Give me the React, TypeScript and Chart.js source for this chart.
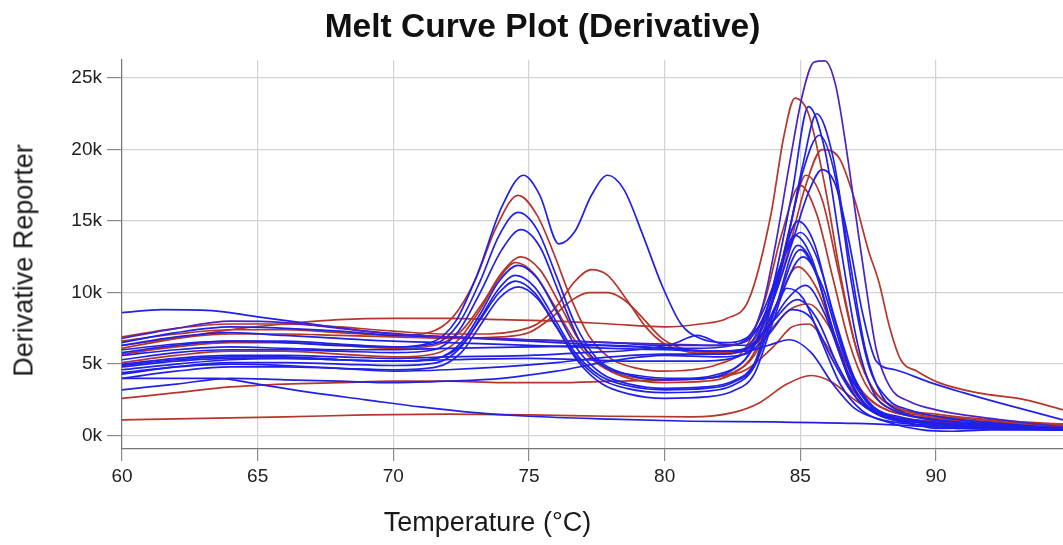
import React, { useEffect, useRef } from 'react';
import { Chart, registerables } from 'chart.js';

Chart.register(...registerables);

type Pt = [number, number];

// Axis ranges & ticks (values in thousands of derivative reporter units)
const X_MIN = 60;
const X_MAX = 94.68;
const Y_MIN = -0.94;
const Y_MAX = 26.26;
const X_TICKS = [60, 65, 70, 75, 80, 85, 90];
const Y_TICKS = [0, 5, 10, 15, 20, 25];

// ---- Red wells ----
const R1: Pt[] = [[60,1.1],[63,1.2],[66,1.3],[69,1.45],[72,1.5],[75,1.45],[78,1.35],[81,1.3],[82.5,1.6],[83.5,2.3],[84.5,3.6],[85.4,4.2],[86.2,3.7],[87,2.5],[88,1.4],[89.5,1.0],[92,0.8],[94.68,0.7]];
const R2: Pt[] = [[60,2.6],[62,3.0],[64,3.4],[66,3.6],[68,3.7],[70,3.8],[72,3.8],[74,3.7],[76,3.7],[78,3.8],[80,3.9],[82,4.1],[83,4.6],[84,6.2],[84.7,7.6],[85.3,7.8],[86,6.2],[86.7,3.8],[87.5,2.0],[88.5,1.3],[90,1.0],[92,0.9],[94.68,0.8]];
const R3: Pt[] = [[60,6.6],[62,7.1],[64,7.4],[66,7.4],[68,7.2],[70,7.0],[71.3,7.2],[72.2,8.3],[73,10.8],[73.8,14.6],[74.6,16.8],[75.3,15.4],[75.9,12.8],[76.5,9.8],[77.2,7.0],[78,5.4],[79,4.7],[80,4.5],[81,4.6],[82,5.0],[83,6.2],[83.7,9.5],[84.3,14.0],[85,17.5],[85.6,15.5],[86.2,11.0],[86.8,6.5],[87.4,3.6],[88.2,2.0],[89.5,1.4],[91,1.1],[94.68,0.7]];
const R4: Pt[] = [[60,5.7],[62,6.2],[64,6.5],[66,6.5],[68,6.3],[70,6.1],[71.5,6.3],[72.5,7.3],[73.3,9.3],[74,11.4],[74.7,12.5],[75.4,11.6],[76.1,9.3],[76.8,6.8],[77.6,5.0],[78.5,4.1],[80,3.7],[81.5,3.8],[82.5,4.3],[83.3,5.8],[84,9.5],[84.6,14.5],[85.2,18.2],[85.8,16.5],[86.4,11.5],[87,6.5],[87.6,3.5],[88.4,2.0],[89.5,1.5],[91,1.2],[94.68,0.7]];
const R5: Pt[] = [[60,5.1],[62,5.6],[64,5.9],[66,5.9],[68,5.7],[70,5.5],[71.5,5.7],[72.4,6.7],[73.2,8.8],[73.9,11.0],[74.5,12.1],[75.2,11.3],[75.9,9.2],[76.6,6.9],[77.4,5.2],[78.3,4.3],[80,3.9],[81.5,4.0],[82.5,4.4],[83.3,5.6],[84.1,9.0],[84.9,11.8],[85.6,10.3],[86.3,6.8],[87,3.8],[87.8,2.2],[89,1.4],[91,1.0],[94.68,0.6]];
const R6: Pt[] = [[60,6.9],[62,7.5],[64,7.8],[66,7.8],[68,7.6],[70,7.3],[72,7.1],[73.5,7.1],[74.5,7.3],[75.3,7.8],[76,9.0],[76.7,10.8],[77.3,11.6],[77.9,11.2],[78.6,9.5],[79.3,7.6],[80,6.4],[81,5.8],[82,5.7],[83,6.1],[83.8,8.5],[84.5,12.5],[85.2,17.5],[85.8,20.0],[86.4,19.5],[87,16.5],[87.5,13.0],[87.9,10.7],[88.3,7.5],[88.7,5.3],[89.3,4.5],[90.1,3.7],[91.5,3.0],[93.3,2.5],[94.68,1.8]];
const R7: Pt[] = [[60,6.3],[62,6.8],[64,7.1],[66,7.1],[68,7.0],[70,6.9],[72,6.8],[74,6.9],[75,7.2],[75.8,8.2],[76.6,9.5],[77.2,10.0],[77.9,10.0],[78.5,9.5],[79.2,8.2],[79.9,6.8],[80.8,6.0],[82,5.8],[83,6.0],[83.8,7.2],[84.6,8.8],[85.3,9.2],[86,7.8],[86.7,5.0],[87.4,2.8],[88.3,1.7],[89.5,1.3],[91,1.0],[94.68,0.6]];
const R8: Pt[] = [[60,6.1],[62,6.8],[64,7.4],[66,7.8],[68,8.1],[70,8.2],[72,8.2],[74,8.1],[76,8.0],[78,7.8],[80,7.6],[81.3,7.8],[82.3,8.2],[83.1,9.5],[83.9,15.3],[84.4,21.0],[84.8,23.6],[85.3,22.5],[85.9,17.5],[86.5,11.0],[87.1,5.8],[87.7,3.2],[88.5,2.0],[90,1.5],[92,1.1],[94.68,0.8]];

// ---- Blue wells ----
const B1: Pt[] = [[60,6.0],[62,6.4],[64,6.6],[66,6.5],[68,6.3],[70,6.2],[71.4,6.5],[72.3,8.0],[73.1,11.3],[74,16.0],[74.8,18.2],[75.4,16.8],[76.1,13.4],[76.7,14.3],[77.3,16.8],[77.9,18.2],[78.5,17.2],[79.2,14.0],[79.9,10.5],[80.6,7.8],[81.3,6.8],[82.2,6.5],[83,6.8],[83.7,9.0],[84.4,12.5],[85,14.2],[85.6,12.5],[86.3,8.0],[87,4.0],[87.7,2.0],[88.7,1.3],[90,0.9],[92,0.7],[94.68,0.5]];
const B2: Pt[] = [[60,5.8],[62,6.3],[64,6.6],[66,6.6],[68,6.4],[70,6.2],[71.5,6.4],[72.4,7.8],[73.2,10.8],[73.9,14.0],[74.6,15.6],[75.3,14.4],[76,11.2],[76.7,7.8],[77.5,5.4],[78.4,4.4],[80,3.9],[81.5,4.0],[82.5,4.6],[83.3,6.3],[84,10.5],[84.7,17.0],[85.3,23.0],[85.9,20.0],[86.5,13.0],[87.1,6.5],[87.7,3.0],[88.5,1.7],[89.5,1.2],[91,0.9],[94.68,0.5]];
const B3: Pt[] = [[60,5.3],[62,5.8],[64,6.0],[66,6.0],[68,5.9],[70,5.8],[71.5,6.0],[72.4,7.3],[73.2,10.0],[74,13.0],[74.7,14.4],[75.4,13.2],[76.1,10.0],[76.9,6.5],[77.8,4.8],[79,4.2],[80.5,4.0],[82,4.3],[83,5.4],[83.8,8.5],[84.5,13.5],[85.1,19.0],[85.6,22.5],[86.2,19.5],[86.8,12.5],[87.4,6.0],[88,2.8],[88.8,1.6],[90,1.1],[92,0.8],[94.68,0.5]];
const B4: Pt[] = [[60,4.8],[62,5.2],[64,5.4],[66,5.4],[68,5.3],[70,5.2],[71.6,5.4],[72.5,6.5],[73.2,8.5],[73.9,10.8],[74.6,11.9],[75.3,11.0],[76,8.7],[76.8,6.0],[77.7,4.3],[78.7,3.6],[80,3.3],[81.5,3.4],[82.5,3.8],[83.3,5.0],[84.1,9.0],[85,13.0],[85.6,11.2],[86.3,6.8],[87,3.3],[87.7,1.7],[88.7,1.1],[90,0.8],[92,0.6],[94.68,0.4]];
const B5: Pt[] = [[60,4.3],[62,4.8],[64,5.1],[66,5.1],[68,5.0],[70,4.9],[71.6,5.1],[72.5,6.2],[73.2,8.2],[73.9,10.3],[74.5,11.2],[75.2,10.4],[75.9,8.3],[76.7,5.8],[77.6,4.2],[78.6,3.5],[80,3.2],[81.5,3.3],[82.5,3.7],[83.3,5.0],[84,9.5],[84.8,14.0],[85.4,12.5],[86.1,8.0],[86.8,4.0],[87.5,2.0],[88.5,1.2],[90,0.8],[92,0.6],[94.68,0.4]];
const B6: Pt[] = [[60,4.6],[62,5.0],[64,5.3],[66,5.4],[68,5.3],[70,5.2],[71.6,5.4],[72.5,6.3],[73.2,8.1],[73.9,10.0],[74.5,10.8],[75.2,10.0],[75.9,8.0],[76.7,5.6],[77.6,4.0],[78.6,3.3],[80,3.0],[81.5,3.1],[82.5,3.5],[83.3,4.8],[84.1,9.0],[84.9,13.3],[85.5,11.8],[86.2,7.2],[86.9,3.5],[87.6,1.8],[88.6,1.0],[90,0.6],[92,0.5],[94.68,0.4]];
const B7: Pt[] = [[60,4.0],[62,4.5],[64,4.8],[66,4.8],[68,4.7],[70,4.6],[71.6,4.8],[72.5,5.8],[73.2,7.7],[73.9,9.6],[74.6,10.4],[75.3,9.6],[76,7.6],[76.8,5.2],[77.7,3.6],[78.7,2.9],[80,2.6],[81.5,2.7],[82.5,3.1],[83.3,4.3],[84,8.0],[84.5,10.3],[85.1,9.6],[85.8,6.5],[86.5,3.5],[87.3,1.7],[88.3,0.9],[89.5,0.4],[90.5,0.3],[92,0.4],[94.68,0.4]];
const B8: Pt[] = [[60,8.6],[61.5,8.8],[63.5,8.7],[65,8.3],[67,7.8],[69,7.3],[71,7.0],[73,6.8],[75,6.6],[77,6.4],[79,6.2],[81,6.1],[82.5,6.3],[83.3,7.2],[84,9.5],[84.7,13.5],[85.3,17.0],[85.8,18.6],[86.3,17.5],[86.8,13.5],[87.3,8.5],[87.8,5.2],[88.5,4.6],[89.8,3.7],[91,3.0],[92.3,2.3],[94.68,1.1]];
const B9: Pt[] = [[60,6.8],[62,7.5],[64,8.0],[66,7.9],[68,7.5],[70,7.1],[72,6.9],[75,6.7],[78,6.5],[80,6.4],[82,6.3],[83,6.6],[83.6,9.0],[84.1,13.5],[84.6,19.0],[85.1,24.0],[85.5,26.1],[85.9,26.2],[86.3,24.5],[86.7,20.0],[87.05,15.3],[87.4,10.7],[87.8,6.0],[88.3,3.4],[89,2.4],[90,1.8],[92,1.2],[94.68,0.6]];
const B10: Pt[] = [[60,5.0],[62,5.4],[64,5.6],[66,5.6],[68,5.5],[70,5.4],[72,5.5],[75,5.6],[77,5.8],[79,6.0],[80.3,6.4],[81.2,7.0],[82.1,6.4],[83,6.3],[83.7,8.5],[84.3,12.0],[84.9,15.0],[85.5,13.5],[86.2,8.5],[86.9,4.2],[87.6,2.0],[88.6,1.2],[90,0.8],[92,0.6],[94.68,0.5]];
const B11: Pt[] = [[60,4.4],[62,4.8],[64,5.0],[66,4.9],[68,4.7],[70,4.5],[72,4.6],[74,4.8],[76,5.1],[78,5.5],[80,5.7],[82,5.7],[83,6.0],[83.8,7.5],[84.5,9.5],[85.2,10.5],[85.9,8.5],[86.6,5.0],[87.4,2.5],[88.4,1.3],[90,0.8],[92,0.6],[94.68,0.4]];
const B12: Pt[] = [[60,3.2],[62,3.6],[64,4.0],[66,3.9],[68,3.8],[70,3.7],[72,3.8],[74,4.0],[76,4.5],[78,5.2],[80,5.6],[82,5.5],[83,5.7],[83.8,7.0],[84.7,8.8],[85.4,8.2],[86.1,5.6],[86.9,3.0],[87.8,1.5],[89,0.9],[90,0.5],[92,0.5],[94.68,0.4]];
const B13: Pt[] = [[60,4.0],[62,4.0],[63.5,4.0],[65,3.6],[67,3.0],[69,2.5],[71,2.0],[73,1.6],[75,1.35],[78,1.15],[81,1.0],[84,0.95],[87,0.85],[89,0.7],[91,0.5],[94.68,0.4]];
const B14: Pt[] = [[60,6.3],[62,6.9],[64,7.2],[66,7.0],[68,6.8],[70,6.6],[72,6.5],[75,6.3],[78,6.1],[80,6.0],[82,5.9],[83,5.9],[83.8,6.3],[84.6,6.7],[85.4,5.8],[86.2,3.6],[87,1.9],[88,1.1],[90,0.7],[92,0.5],[94.68,0.4]];
const B15: Pt[] = [[60,5.6],[62,6.0],[64,6.2],[66,6.1],[68,6.0],[70,6.0],[72,6.1],[75,6.2],[78,6.3],[80,6.1],[82,5.9],[83,6.1],[83.9,7.8],[84.9,9.5],[85.6,8.2],[86.4,4.8],[87.2,2.3],[88.3,1.3],[90,0.9],[92,0.6],[94.68,0.5]];
const B16: Pt[] = [[60,6.5],[62,7.2],[64,7.6],[66,7.5],[68,7.3],[70,7.0],[72,6.9],[75,6.7],[78,6.5],[80,6.3],[82,6.3],[83,6.6],[83.8,9.0],[84.5,13.5],[85.1,18.5],[85.7,21.0],[86.3,18.0],[86.9,10.5],[87.5,5.0],[88.2,2.6],[89,1.8],[90.5,1.2],[92,0.9],[94.68,0.5]];
const B17: Pt[] = [[60,4.9],[62,5.3],[64,5.5],[66,5.5],[68,5.3],[70,5.2],[72,5.3],[75,5.4],[77,5.3],[79,5.2],[81,5.2],[82.5,5.4],[83.4,6.5],[84.2,9.5],[85.1,12.5],[85.8,10.5],[86.5,6.2],[87.2,3.0],[88,1.6],[89.5,1.0],[92,0.7],[94.68,0.5]];

const PURPLE_SERIES: Pt[][] = [B9];
const BLUE_SERIES: Pt[][] = [B1, B2, B3, B4, B5, B6, B7, B8, B10, B11, B12, B13, B14, B15, B16, B17];
const RED_SERIES: Pt[][] = [R1, R2, R3, R4, R5, R6, R7, R8];

const BLUE = '#2020e8';
const RED = '#b5362b';
const PURPLE = '#4a22c6';
const FONT = "'Liberation Sans', Arial, Helvetica, sans-serif";

export default function App() {
  const canvasRef = useRef<HTMLCanvasElement | null>(null);

  useEffect(() => {
    document.body.style.margin = '0';
    const canvas = canvasRef.current;
    if (!canvas) return;

    const mk = (pts: Pt[], color: string) => ({
      data: pts.map(([x, y]) => ({ x, y })),
      borderColor: color,
      borderWidth: 1.7,
      pointRadius: 0,
      fill: false,
      cubicInterpolationMode: 'monotone' as const,
    });

    const datasets = [
      ...PURPLE_SERIES.map((s) => mk(s, PURPLE)),
      ...BLUE_SERIES.map((s) => mk(s, BLUE)),
      ...RED_SERIES.map((s) => mk(s, RED)),
    ];

    const chart = new Chart(canvas, {
      type: 'line',
      data: { datasets },
      options: {
        animation: false,
        responsive: false,
        maintainAspectRatio: false,
        layout: { padding: { top: 60, left: 0, right: 0, bottom: 0 } },
        plugins: { legend: { display: false }, tooltip: { enabled: false }, title: { display: false } },
        scales: {
          x: {
            type: 'linear',
            min: X_MIN,
            max: X_MAX,
            afterBuildTicks: (s: any) => { s.ticks = X_TICKS.map((v) => ({ value: v })); },
            afterFit: (s: any) => { s.height = 96; },
            grid: { color: '#d2d2d2', lineWidth: 1.2, tickLength: 12, tickColor: '#8a8a8a', drawTicks: true },
            border: { color: '#777777', width: 1.2 },
            ticks: {
              padding: 4,
              color: '#222222',
              font: { family: FONT, size: 19 },
              maxRotation: 0,
              callback: (v: any) => String(v),
            },
          },
          y: {
            type: 'linear',
            min: Y_MIN,
            max: Y_MAX,
            afterBuildTicks: (s: any) => { s.ticks = Y_TICKS.map((v) => ({ value: v })); },
            afterFit: (s: any) => { s.width = 122; },
            grid: { color: '#d2d2d2', lineWidth: 1.2, tickLength: 15, tickColor: '#8a8a8a', drawTicks: true },
            border: { color: '#777777', width: 1.2 },
            ticks: {
              padding: 5,
              color: '#222222',
              font: { family: FONT, size: 19 },
              callback: (v: any) => `${v}k`,
            },
          },
        },
      },
    });

    return () => chart.destroy();
  }, []);

  return (
    <div style={{ position: 'absolute', left: 0, top: 0, width: 1063, height: 545, overflow: 'hidden', background: '#fff' }}>
      <canvas ref={canvasRef} width={1063} height={545} style={{ position: 'absolute', left: 0, top: 0, width: 1063, height: 545 }} />
      <div style={{ position: 'absolute', left: 0, top: 8.8, width: 1085, textAlign: 'center', font: `bold 33.5px ${FONT}`, lineHeight: '33.5px', color: '#111', whiteSpace: 'nowrap' }}>
        Melt Curve Plot (Derivative)
      </div>
      <div style={{ position: 'absolute', left: 0, top: 509, width: 975, textAlign: 'center', font: `27px ${FONT}`, lineHeight: '27px', color: '#1a1a1a', whiteSpace: 'nowrap' }}>
        Temperature (°C)
      </div>
      <div style={{ position: 'absolute', left: -176.1, top: 247.4, width: 400, height: 27, textAlign: 'center', font: `27px ${FONT}`, lineHeight: '27px', color: '#1a1a1a', whiteSpace: 'nowrap', transform: 'rotate(-90deg)' }}>
        Derivative Reporter
      </div>
    </div>
  );
}
